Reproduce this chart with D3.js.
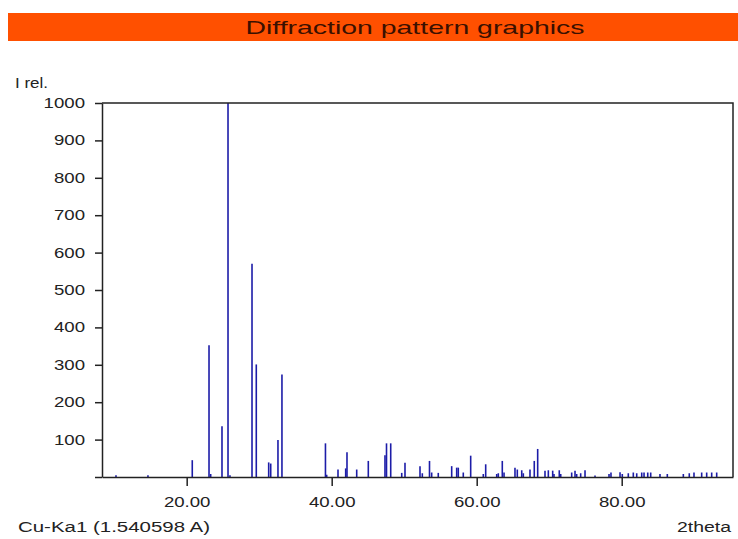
<!DOCTYPE html>
<html>
<head>
<meta charset="utf-8">
<script src="https://cdn.jsdelivr.net/npm/d3@7"></script>
<style>
  body { margin: 0; background: #fff; }
  text { font-family: "Liberation Sans", Arial, sans-serif; }
</style>
</head>
<body>
<script>
"use strict";

// peak positions (2theta, degrees) and relative intensities
const twoTheta = [10.25, 14.66, 20.77, 23.08, 23.31, 24.87, 25.70, 25.97, 29.01, 29.60,
    31.31, 31.59, 32.59, 33.14, 39.14, 39.31, 40.87, 41.93, 42.11, 43.45,
    45.05, 47.35, 47.56, 48.14, 49.66, 50.11, 52.18, 52.50, 53.49, 53.79,
    54.70, 56.55, 57.24, 57.46, 58.15, 59.17, 60.91, 61.24, 62.76, 62.98,
    63.53, 63.77, 65.28, 65.60, 66.21, 66.43, 67.35, 67.94, 68.41, 69.42,
    69.88, 70.48, 70.66, 71.39, 71.59, 73.10, 73.56, 73.79, 74.34, 74.94,
    76.32, 78.25, 78.52, 79.77, 80.08, 80.91, 81.60, 82.07, 82.76, 83.08,
    83.59, 84.00, 85.28, 86.29, 88.50, 89.32, 89.97, 91.03, 91.72, 92.41, 93.10]
const intensity = [5, 5, 45, 352, 8, 136, 1000, 5, 570, 301,
    39, 36, 99, 274, 90, 6, 20, 23, 66, 20,
    43, 58, 90, 90, 11, 38, 29, 10, 43, 12,
    11, 29, 25, 25, 12, 57, 8, 34, 8, 10,
    43, 12, 25, 20, 18, 10, 20, 43, 75, 17,
    18, 17, 8, 18, 8, 12, 17, 8, 10, 18,
    4, 8, 12, 13, 8, 10, 12, 10, 12, 12,
    12, 12, 8, 8, 8, 10, 12, 12, 12, 12, 12]

const xTicks = [20, 40, 60, 80]
const yTicks = [0, 100, 200, 300, 400, 500, 600, 700, 800, 900, 1000]

const titleText = "Diffraction pattern graphics"
const yLabel = "I rel."
const xLabel = "2theta"
const waveLabel = "Cu-Ka1 (1.540598 A)"

;(function () {
const m = {
    width: 738,
    height: 539,
    left: 102,
    right: 733,
    top: 103,
    bottom: 477
}
const stretch = 1.33

const svg = d3.select('body').append('svg')
    .attr('width', m.width)
    .attr('height', m.height)

// title bar
svg.append('rect')
    .attr('x', 8).attr('y', 13)
    .attr('width', m.width - 8).attr('height', 28)
    .attr('fill', '#ff5000')
svg.append('text')
    .attr('x', 415).attr('y', 34)
    .attr('text-anchor', 'middle')
    .attr('font-family', '"DejaVu Sans", Verdana, sans-serif')
    .attr('font-size', 19)
    .attr('textLength', 339)
    .attr('lengthAdjust', 'spacingAndGlyphs')
    .attr('fill', '#3a1000')
    .text(titleText)

const x = d3.scaleLinear().domain([8.32, 95.35]).range([m.left, m.right])
const y = d3.scaleLinear().domain([0, 1000]).range([m.bottom, m.top])

const peaks = twoTheta.map((t, i) => ({ t: t, v: intensity[i] }))

// peaks drawn as sticks
svg.append('g').selectAll('line')
    .data(peaks)
    .enter()
    .append('line')
    .attr('x1', d => x(d.t))
    .attr('x2', d => x(d.t))
    .attr('y1', y(0))
    .attr('y2', d => y(d.v))
    .attr('stroke', '#1c1ca8')
    .attr('stroke-width', 1.6)

// frame top + right
svg.append('path')
    .attr('d', `M${m.left},${m.top}H${m.right}V${m.bottom}`)
    .attr('fill', 'none')
    .attr('stroke', '#222')
    .attr('stroke-width', 1.5)

const yAxis = svg.append('g')
    .attr('transform', `translate(${m.left},0)`)
    .call(d3.axisLeft(y).tickValues(yTicks).tickSize(7).tickSizeOuter(0)
        .tickFormat(d => d === 0 ? '' : d))
yAxis.selectAll('text')
    .attr('x', -17 / stretch)
    .attr('transform', `scale(${stretch},1)`)
    .attr('font-size', 14)
    .attr('fill', '#222')

const xAxis = svg.append('g')
    .attr('transform', `translate(0,${m.bottom})`)
    .call(d3.axisBottom(x).tickValues(xTicks).tickSize(9).tickSizeOuter(0)
        .tickFormat(d3.format('.2f')))
xAxis.selectAll('text')
    .attr('y', 20)
    .attr('transform', `scale(${stretch},1)`)
    .attr('font-size', 14)
    .attr('fill', '#222')

svg.selectAll('.domain, .tick line')
    .attr('stroke', '#222')
    .attr('stroke-width', 1.5)

// axis captions
svg.append('text')
    .attr('x', 15).attr('y', 88)
    .attr('font-size', 14)
    .attr('textLength', 33)
    .attr('lengthAdjust', 'spacingAndGlyphs')
    .attr('fill', '#222')
    .text(yLabel)
svg.append('text')
    .attr('x', 18).attr('y', 532)
    .attr('font-size', 14)
    .attr('textLength', 192)
    .attr('lengthAdjust', 'spacingAndGlyphs')
    .attr('fill', '#222')
    .text(waveLabel)
svg.append('text')
    .attr('x', 677).attr('y', 532)
    .attr('font-size', 14)
    .attr('textLength', 54)
    .attr('lengthAdjust', 'spacingAndGlyphs')
    .attr('fill', '#222')
    .text(xLabel)
})();
</script>
</body>
</html>
